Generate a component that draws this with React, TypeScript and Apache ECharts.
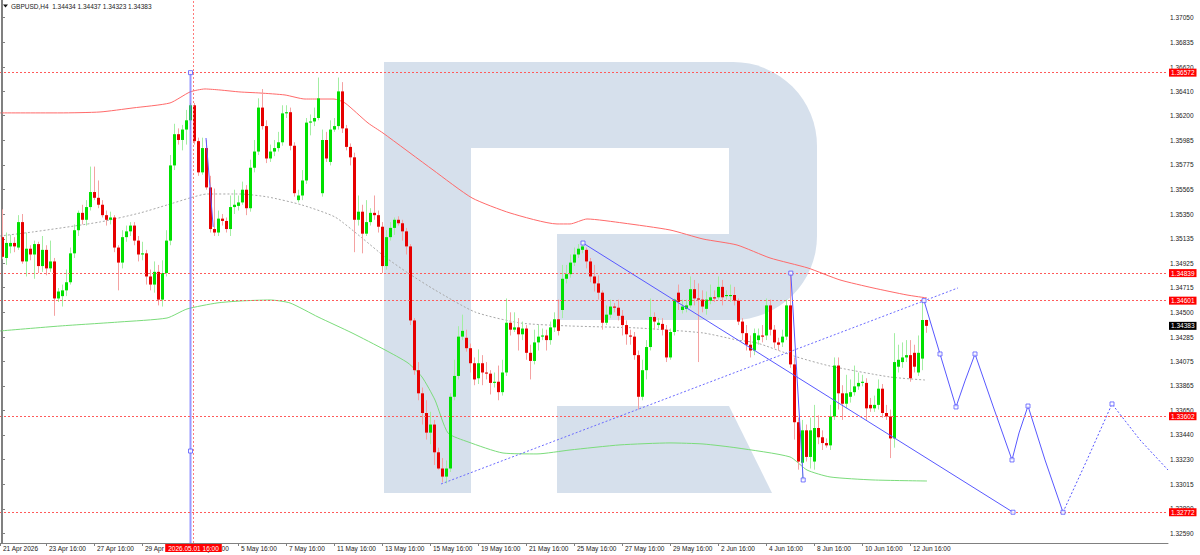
import React, { useEffect, useRef } from "react";
import * as echarts from "echarts";

// [open, close, low, high] for each H4 bar
const candles: number[][] = [
  [1.3515,1.3498,1.3496,1.3539],[1.3497,1.3510,1.3491,1.3519],[1.3507,1.3510,1.3501,1.3517],[1.3510,1.3507,1.3502,1.3515],
  [1.3506,1.3528,1.3504,1.3534],[1.3528,1.3494,1.3492,1.3535],[1.3494,1.3505,1.3481,1.3519],[1.3505,1.3500,1.3495,1.3508],
  [1.3500,1.3509,1.3479,1.3512],[1.3509,1.3490,1.3484,1.3511],[1.3490,1.3504,1.3485,1.3516],[1.3504,1.3488,1.3482,1.3508],
  [1.3488,1.3494,1.3485,1.3512],[1.3494,1.3462,1.3447,1.3497],[1.3462,1.3468,1.3459,1.3471],[1.3464,1.3469,1.3455,1.3474],
  [1.3469,1.3476,1.3464,1.3487],[1.3476,1.3501,1.3474,1.3506],[1.3501,1.3521,1.3497,1.3526],[1.3521,1.3536,1.3516,1.3538],
  [1.3536,1.3530,1.3526,1.3543],[1.3530,1.3541,1.3525,1.3547],[1.3541,1.3554,1.3538,1.3576],[1.3554,1.3549,1.3547,1.3576],
  [1.3549,1.3543,1.3540,1.3564],[1.3543,1.3534,1.3532,1.3547],[1.3534,1.3530,1.3525,1.3538],[1.3530,1.3532,1.3526,1.3537],
  [1.3532,1.3506,1.3502,1.3534],[1.3506,1.3493,1.3469,1.3508],[1.3493,1.3515,1.3488,1.3521],[1.3515,1.3520,1.3511,1.3525],
  [1.3520,1.3525,1.3516,1.3528],[1.3525,1.3512,1.3508,1.3528],[1.3512,1.3500,1.3494,1.3516],[1.3500,1.3501,1.3495,1.3511],
  [1.3501,1.3481,1.3474,1.3504],[1.3481,1.3474,1.3469,1.3487],[1.3474,1.3485,1.3467,1.3494],[1.3485,1.3461,1.3456,1.3491],
  [1.3461,1.3484,1.3455,1.3495],[1.3484,1.3512,1.3481,1.3521],[1.3512,1.3577,1.3508,1.3586],[1.3577,1.3604,1.3573,1.3613],
  [1.3604,1.3599,1.3595,1.3609],[1.3599,1.3608,1.3590,1.3612],[1.3608,1.3616,1.3595,1.3625],[1.3616,1.3629,1.3608,1.3631],
  [1.3629,1.3598,1.3595,1.3631],[1.3598,1.3571,1.3568,1.3601],[1.3571,1.3592,1.3569,1.3601],[1.3592,1.3558,1.3556,1.3599],
  [1.3558,1.3522,1.3519,1.3568],[1.3522,1.3519,1.3516,1.3557],[1.3519,1.3531,1.3516,1.3538],[1.3531,1.3529,1.3525,1.3535],
  [1.3529,1.3522,1.3519,1.3532],[1.3522,1.3541,1.3516,1.3551],[1.3541,1.3543,1.3535,1.3556],[1.3542,1.3545,1.3538,1.3551],
  [1.3545,1.3556,1.3543,1.3563],[1.3556,1.3540,1.3534,1.3560],[1.3540,1.3575,1.3537,1.3582],[1.3575,1.3589,1.3571,1.3599],
  [1.3589,1.3627,1.3586,1.3635],[1.3627,1.3611,1.3608,1.3643],[1.3611,1.3583,1.3579,1.3616],[1.3583,1.3589,1.3580,1.3595],
  [1.3589,1.3592,1.3585,1.3599],[1.3592,1.3597,1.3589,1.3606],[1.3597,1.3622,1.3594,1.3629],[1.3622,1.3623,1.3618,1.3629],
  [1.3623,1.3594,1.3590,1.3627],[1.3594,1.3553,1.3550,1.3597],[1.3547,1.3551,1.3545,1.3556],[1.3551,1.3564,1.3547,1.3573],
  [1.3564,1.3614,1.3561,1.3618],[1.3614,1.3615,1.3603,1.3621],[1.3615,1.3618,1.3611,1.3627],[1.3618,1.3635,1.3616,1.3653],
  [1.3553,1.3599,1.3550,1.3608],[1.3599,1.3583,1.3580,1.3606],[1.3580,1.3608,1.3577,1.3616],[1.3608,1.3611,1.3606,1.3618],
  [1.3611,1.3641,1.3608,1.3653],[1.3641,1.3609,1.3605,1.3649],[1.3609,1.3593,1.3590,1.3612],[1.3593,1.3584,1.3577,1.3596],
  [1.3584,1.3530,1.3502,1.3588],[1.3530,1.3537,1.3525,1.3551],[1.3537,1.3518,1.3501,1.3543],[1.3518,1.3528,1.3516,1.3547],
  [1.3528,1.3536,1.3525,1.3540],[1.3536,1.3534,1.3530,1.3551],[1.3534,1.3524,1.3519,1.3538],[1.3524,1.3490,1.3484,1.3528],
  [1.3490,1.3515,1.3487,1.3521],[1.3515,1.3523,1.3512,1.3528],[1.3523,1.3530,1.3517,1.3532],[1.3530,1.3527,1.3525,1.3533],
  [1.3527,1.3520,1.3512,1.3530],[1.3520,1.3507,1.3500,1.3523],[1.3507,1.3443,1.3439,1.3509],[1.3443,1.3400,1.3396,1.3445],
  [1.3400,1.3380,1.3374,1.3407],[1.3380,1.3363,1.3353,1.3385],[1.3363,1.3346,1.3340,1.3374],[1.3346,1.3353,1.3336,1.3364],
  [1.3353,1.3329,1.3318,1.3357],[1.3329,1.3315,1.3314,1.3333],[1.3315,1.3308,1.3303,1.3324],[1.3308,1.3315,1.3302,1.3322],
  [1.3315,1.3377,1.3312,1.3380],[1.3377,1.3395,1.3374,1.3409],[1.3395,1.3429,1.3392,1.3438],[1.3429,1.3434,1.3426,1.3448],
  [1.3428,1.3419,1.3416,1.3435],[1.3419,1.3406,1.3398,1.3423],[1.3406,1.3392,1.3387,1.3411],[1.3393,1.3406,1.3388,1.3418],
  [1.3406,1.3398,1.3387,1.3413],[1.3398,1.3397,1.3392,1.3407],[1.3397,1.3389,1.3379,1.3400],[1.3389,1.3390,1.3385,1.3398],
  [1.3390,1.3381,1.3374,1.3404],[1.3381,1.3398,1.3378,1.3409],[1.3398,1.3441,1.3395,1.3462],[1.3441,1.3435,1.3430,1.3450],
  [1.3435,1.3437,1.3433,1.3450],[1.3437,1.3431,1.3417,1.3445],[1.3431,1.3436,1.3426,1.3442],[1.3436,1.3415,1.3409,1.3439],
  [1.3415,1.3408,1.3392,1.3422],[1.3408,1.3424,1.3405,1.3435],[1.3424,1.3429,1.3417,1.3439],[1.3429,1.3430,1.3426,1.3436],
  [1.3430,1.3426,1.3417,1.3435],[1.3426,1.3437,1.3422,1.3442],[1.3437,1.3444,1.3433,1.3450],[1.3444,1.3434,1.3430,1.3461],
  [1.3452,1.3479,1.3445,1.3491],[1.3479,1.3483,1.3475,1.3491],[1.3483,1.3493,1.3480,1.3500],[1.3493,1.3500,1.3490,1.3506],
  [1.3500,1.3505,1.3497,1.3509],[1.3504,1.3507,1.3501,1.3511],[1.3504,1.3494,1.3488,1.3506],[1.3494,1.3481,1.3476,1.3497],
  [1.3481,1.3475,1.3468,1.3491],[1.3475,1.3467,1.3461,1.3482],[1.3467,1.3441,1.3435,1.3469],[1.3441,1.3448,1.3439,1.3456],
  [1.3448,1.3455,1.3445,1.3461],[1.3455,1.3454,1.3450,1.3458],[1.3454,1.3447,1.3443,1.3461],[1.3447,1.3439,1.3430,1.3452],
  [1.3439,1.3431,1.3422,1.3443],[1.3430,1.3429,1.3422,1.3435],[1.3429,1.3413,1.3409,1.3433],[1.3413,1.3377,1.3366,1.3417],
  [1.3377,1.3400,1.3374,1.3409],[1.3400,1.3420,1.3392,1.3426],[1.3420,1.3446,1.3417,1.3462],[1.3446,1.3442,1.3435,1.3450],
  [1.3439,1.3441,1.3436,1.3445],[1.3440,1.3435,1.3430,1.3445],[1.3435,1.3411,1.3407,1.3439],[1.3411,1.3433,1.3409,1.3436],
  [1.3433,1.3461,1.3430,1.3462],[1.3467,1.3459,1.3452,1.3474],[1.3452,1.3455,1.3449,1.3461],[1.3453,1.3456,1.3450,1.3461],
  [1.3456,1.3470,1.3454,1.3481],[1.3470,1.3462,1.3456,1.3478],[1.3462,1.3461,1.3407,1.3475],[1.3461,1.3455,1.3450,1.3469],
  [1.3453,1.3461,1.3448,1.3468],[1.3460,1.3463,1.3457,1.3474],[1.3463,1.3462,1.3459,1.3469],[1.3463,1.3472,1.3461,1.3481],
  [1.3472,1.3463,1.3456,1.3478],[1.3464,1.3465,1.3461,1.3469],[1.3464,1.3465,1.3459,1.3474],[1.3465,1.3460,1.3456,1.3472],
  [1.3460,1.3442,1.3439,1.3462],[1.3442,1.3432,1.3426,1.3445],[1.3432,1.3422,1.3417,1.3439],[1.3422,1.3417,1.3411,1.3430],
  [1.3417,1.3432,1.3413,1.3436],[1.3426,1.3430,1.3422,1.3436],[1.3430,1.3429,1.3424,1.3439],[1.3430,1.3456,1.3426,1.3462],
  [1.3456,1.3435,1.3430,1.3461],[1.3435,1.3424,1.3419,1.3439],[1.3424,1.3422,1.3417,1.3428],[1.3424,1.3429,1.3420,1.3435],
  [1.3429,1.3456,1.3426,1.3461],[1.3456,1.3405,1.3402,1.34839],[1.3405,1.3355,1.3340,1.3411],[1.3355,1.3321,1.3314,1.3359],
  [1.3320,1.3348,1.3305,1.3357],[1.3348,1.3325,1.3321,1.3353],[1.3325,1.3348,1.3315,1.3359],[1.3321,1.3350,1.3314,1.3370],
  [1.3350,1.3342,1.3336,1.3361],[1.3342,1.3337,1.3331,1.3348],[1.3337,1.3335,1.3333,1.3341],[1.3335,1.3360,1.3331,1.3370],
  [1.3360,1.3404,1.3357,1.3411],[1.3404,1.3380,1.3366,1.3411],[1.3380,1.3371,1.3357,1.3387],[1.3371,1.3380,1.3367,1.3396],
  [1.3377,1.3381,1.3372,1.3392],[1.3381,1.3386,1.3378,1.3404],[1.3386,1.3389,1.3383,1.3398],[1.3389,1.3390,1.3386,1.3396],
  [1.3389,1.3367,1.3357,1.3393],[1.3370,1.3367,1.3364,1.3376],[1.3367,1.3370,1.3364,1.3378],[1.3370,1.3384,1.3366,1.3392],
  [1.3384,1.3363,1.3359,1.3388],[1.3363,1.3360,1.3357,1.3370],[1.3360,1.3341,1.3324,1.3366],[1.3341,1.3407,1.3333,1.3432],
  [1.3403,1.3409,1.3398,1.3422],[1.3407,1.3411,1.3402,1.3424],[1.3411,1.3413,1.3407,1.3426],[1.3413,1.3393,1.3390,1.3426],
  [1.3415,1.3403,1.3398,1.3422],[1.3398,1.3415,1.3395,1.3430],[1.3410,1.34434,1.3400,1.34601],[1.34434,1.34383,1.34323,1.34437],
];

// moving averages: [bar index, price]
const redMA: number[][] = [
  [-0.5,1.36224],[14.5,1.36224],[24.5,1.36232],[32.75,1.36267],[42,1.3631],[47,1.36405],[50.75,1.36431],[54.5,1.36422],
  [59.5,1.36405],[64.5,1.36396],[70.75,1.36379],[75.75,1.36344],[79.5,1.36344],[83,1.36344],[85.75,1.3631],[91.5,1.36137],
  [95.25,1.3605],[107.75,1.35731],[117.5,1.35489],[127,1.35359],[138.75,1.35264],[142,1.35264],[146.25,1.35307],[155.25,1.35272],
  [167,1.35212],[175.25,1.35134],[183.75,1.35082],[192,1.3497],[201.5,1.34883],[209.5,1.3478],[217.75,1.34711],[226.25,1.3465],
  [231.25,1.34624],
];
const grayMA: number[][] = [
  [-0.5,1.3516],[7.75,1.35195],[24.5,1.35281],[34.5,1.35359],[41.25,1.35428],[47,1.35489],[51.25,1.35523],[59.5,1.35523],
  [66.5,1.35497],[75,1.35428],[83.25,1.35324],[90,1.35143],[95.75,1.34979],[101.5,1.3484],[108.25,1.34693],[118.25,1.34503],
  [129.5,1.34408],[142,1.34382],[158.75,1.34365],[175.25,1.34322],[183.75,1.34261],[188.75,1.34235],[198.75,1.34114],
  [207,1.34036],[222,1.33941],[230.75,1.33915],
];
const greenMA: number[][] = [
  [-0.5,1.34339],[14.5,1.34382],[29.5,1.34417],[41.25,1.34451],[46.25,1.34529],[53.75,1.34581],[59.5,1.34598],[67,1.34607],
  [72,1.34581],[79,1.3446],[87.5,1.34322],[95.75,1.34175],[101.5,1.34062],[105,1.33941],[108.25,1.33742],[111.5,1.33457],
  [116.5,1.3338],[125.25,1.33284],[133.75,1.33276],[142,1.3331],[154.5,1.33354],[167,1.33371],[175.25,1.33362],[183.75,1.33328],
  [197,1.3325],[201.25,1.33137],[207,1.33077],[217.75,1.33051],[231.25,1.33042],
];

// drawn objects
const levels = [1.36572, 1.34839, 1.34601, 1.33602, 1.32772];
const lastPrice = 1.34383;
const separatorBar = 47.875;
const separatorLabel = "2026.05.01 16:00";
const vertLine: number[][] = [[47.125, 1.36572], [47.125, 1.32506]];
const vertMarks: number[][] = [[47.125, 1.36572], [47.125, 1.33301]];
const swingMay: number[][] = [[51, 1.36007], [52.8, 1.35238]];
const swingJun: number[][] = [[197.2, 1.34839], [200.3, 1.33051]];
const trendDown: number[][] = [[145.25, 1.35099], [252.75, 1.32772]];
const trendUp: number[][] = [[109.75, 1.33016], [239, 1.34711]];
const forecastSolid: number[][] = [
  [230.5,1.34601],[234.5,1.3414],[238.5,1.33682],[240.75,1.33907],[243.25,1.3414],[247.75,1.3369],
  [252.5,1.33224],[254.25,1.33457],[256.5,1.3369],[260.75,1.33224],[265.25,1.32772],
];
const forecastDotted: number[][] = [[265.25,1.32772],[271.25,1.33224],[277.5,1.33708],[284.5,1.33397],[291.5,1.33137]];
const forecastMarks: number[][] = [
  [230.5,1.34601],[234.5,1.3414],[238.5,1.33682],[243.25,1.3414],[252.5,1.33224],[256.5,1.3369],[265.25,1.32772],[277.5,1.33708],
];

const priceTicks = [1.3705,1.36835,1.3662,1.3641,1.362,1.35985,1.35775,1.35565,1.3535,1.35135,1.34925,1.34715,1.345,1.34285,1.34075,1.33865,1.3365,1.3344,1.3323,1.33015,1.328,1.3259];
const timeTickBars = [-0.5, 11, 23, 35, 47, 59, 71, 83, 95, 107, 119, 131, 143, 155, 167, 179, 191, 203, 215, 227];
const timeTickTexts = ["21 Apr 2026","23 Apr 16:00","27 Apr 16:00","29 Apr","1 May 16:00","5 May 16:00","7 May 16:00","11 May 16:00","13 May 16:00","15 May 16:00","19 May 16:00","21 May 16:00","25 May 16:00","27 May 16:00","29 May 16:00","2 Jun 16:00","4 Jun 16:00","8 Jun 16:00","10 Jun 16:00","12 Jun 16:00"];

const header = "GBPUSD,H4  1.34434 1.34437 1.34323 1.34383";

const FONT = "Liberation Sans, Arial, sans-serif";
const BLUE = "#5858ff";

export default function App() {
  const ref = useRef<HTMLDivElement>(null);
  useEffect(() => {
    document.body.style.margin = "0";
    if (!ref.current) return;
    const chart = echarts.init(ref.current, null, { renderer: "svg" });
    const labelMap: Record<string, string> = {};
    timeTickBars.forEach((b, k) => (labelMap[String(b)] = timeTickTexts[k]));

    const renderCandle = (params: any, api: any) => {
      const i = api.value(0), o = api.value(1), c = api.value(2), l = api.value(3), h = api.value(4);
      const pO = api.coord([i, o]);
      const pC = api.coord([i, c]);
      const pL = api.coord([i, l]);
      const pH = api.coord([i, h]);
      const cx = Math.round(pO[0]);
      const up = c >= o;
      const top = Math.min(pO[1], pC[1]);
      const bot = Math.max(pO[1], pC[1]);
      return {
        type: "group",
        children: [
          { type: "line", shape: { x1: cx + 0.5, y1: pH[1], x2: cx + 0.5, y2: pL[1] }, style: { stroke: up ? "#a3eea3" : "#f4a2a2", lineWidth: 1 } },
          { type: "rect", shape: { x: cx - 1, y: top, width: 3, height: Math.max(1, bot - top) }, style: { fill: up ? "#00e000" : "#e60000" } },
        ],
      };
    };

    const tagLabel = (bg: string) => ({
      show: true, position: "end", distance: 1, color: "#fff", backgroundColor: bg, opacity: 1,
      padding: [1, 2, 0, 2], fontSize: 6.5, fontFamily: FONT,
      formatter: (p: any) => Number(p.value).toFixed(5),
    });

    const squares = (data: number[][]) => ({
      type: "scatter", data, symbol: "rect", symbolSize: 4, z: 6, silent: true,
      itemStyle: { color: "#ffffff", borderColor: BLUE, borderWidth: 1 },
    });

    const WM = "#d6e0ec";
    chart.setOption({
      animation: false,
      textStyle: { fontFamily: FONT },
      grid: { left: 0, right: 32, top: 0, bottom: 12 },
      xAxis: {
        type: "value", min: -0.5, max: 291.5,
        splitLine: { show: false },
        axisLine: { show: true, lineStyle: { color: "#808080" } },
        axisTick: { show: true, customValues: timeTickBars, length: 3, lineStyle: { color: "#808080" } },
        axisLabel: {
          customValues: timeTickBars, align: "left", margin: 2, fontSize: 6.5, color: "#222",
          padding: [0, 0, 0, 3],
          formatter: (v: number) => labelMap[String(v)] || "",
        },
      },
      yAxis: {
        type: "value", position: "right", min: 1.32506, max: 1.372,
        splitLine: { show: false },
        axisLine: { show: true, lineStyle: { color: "#808080" } },
        axisTick: { show: true, customValues: priceTicks, length: 3, lineStyle: { color: "#808080" } },
        axisLabel: { customValues: priceTicks, margin: 2, fontSize: 6.5, color: "#222", formatter: (v: number) => v.toFixed(5) },
      },
      graphic: [
        { type: "rect", z: 0, silent: true, shape: { x: 384, y: 62, width: 87, height: 431 }, style: { fill: WM } },
        { type: "rect", z: 0, silent: true, shape: { x: 470, y: 62, width: 263, height: 86 }, style: { fill: WM } },
        { type: "rect", z: 0, silent: true, shape: { x: 557, y: 234, width: 176, height: 86 }, style: { fill: WM } },
        { type: "rect", z: 0, silent: true, shape: { x: 729, y: 62, width: 88, height: 258, r: [0, 84, 84, 0] }, style: { fill: WM } },
        { type: "polygon", z: 0, silent: true, shape: { points: [[557, 406], [729, 406], [772, 493], [557, 493]] }, style: { fill: WM } },
        { type: "line", z: 10, silent: true, shape: { x1: 1.5, y1: 0, x2: 1.5, y2: 543 }, style: { stroke: "#808080", lineWidth: 1 } },
        { type: "polygon", z: 100, silent: true, shape: { points: [[3, 4.5], [8, 4.5], [5.5, 7.5]] }, style: { fill: "#111" } },
        { type: "text", z: 100, silent: true, x: 11, y: 6.5, style: { text: header, fontSize: 6.5, fontFamily: FONT, fill: "#222", verticalAlign: "middle" } },
      ],
      series: [
        {
          type: "line", data: greenMA, smooth: 0.2, showSymbol: false, silent: true, z: 2,
          lineStyle: { color: "#7bdc7b", width: 1 },
        },
        {
          type: "line", data: grayMA, smooth: 0.2, showSymbol: false, silent: true, z: 2,
          lineStyle: { color: "#a8a8a8", width: 1, type: [2, 2] },
          markLine: {
            silent: true, symbol: ["none", "none"], animation: false, precision: 5,
            lineStyle: { color: "#ff5a5a", width: 1, type: [2, 2] },
            label: tagLabel("#ff0000"),
            data: [
              ...levels.map((v) => ({ yAxis: v })),
              { yAxis: lastPrice, lineStyle: { color: "rgba(0,0,0,0)", width: 0 }, label: tagLabel("#000000") },
            ],
          },
        },
        {
          type: "line", data: redMA, smooth: 0.2, showSymbol: false, silent: true, z: 2,
          lineStyle: { color: "#ff6a6a", width: 1 },
          markLine: {
            silent: true, symbol: ["none", "none"], animation: false, precision: 5,
            lineStyle: { color: "#ff7a7a", width: 1, type: [2, 2] },
            label: {
              show: true, position: "start", distance: 1, color: "#fff", backgroundColor: "#ff0000",
              padding: [1, 3, 0, 3], fontSize: 6.5, fontFamily: FONT, formatter: separatorLabel,
            },
            data: [{ xAxis: separatorBar }],
          },
        },
        {
          type: "custom", renderItem: renderCandle, z: 3, silent: true,
          data: candles.map((d, i) => [i, d[0], d[1], d[2], d[3]]),
          encode: { x: 0, y: [1, 2, 3, 4] },
        },
        { type: "line", data: vertLine, showSymbol: false, silent: true, z: 4, lineStyle: { color: "rgba(110,110,255,0.7)", width: 2 } },
        { type: "line", data: swingMay, showSymbol: false, silent: true, z: 4, lineStyle: { color: BLUE, width: 1 } },
        { type: "line", data: swingJun, showSymbol: false, silent: true, z: 4, lineStyle: { color: BLUE, width: 1 } },
        { type: "line", data: trendDown, showSymbol: false, silent: true, z: 4, lineStyle: { color: BLUE, width: 1 } },
        { type: "line", data: trendUp, showSymbol: false, silent: true, z: 4, lineStyle: { color: "#6a6aff", width: 1, type: [2, 2] } },
        { type: "line", data: forecastSolid, showSymbol: false, silent: true, z: 4, lineStyle: { color: BLUE, width: 1 } },
        { type: "line", data: forecastDotted, showSymbol: false, silent: true, z: 4, lineStyle: { color: BLUE, width: 1, type: [2, 2] } },
        squares(vertMarks),
        squares(swingJun),
        squares(trendDown),
        squares(forecastMarks),
      ],
    });
    return () => chart.dispose();
  }, []);
  return <div ref={ref} style={{ width: 1200, height: 555 }} />;
}
